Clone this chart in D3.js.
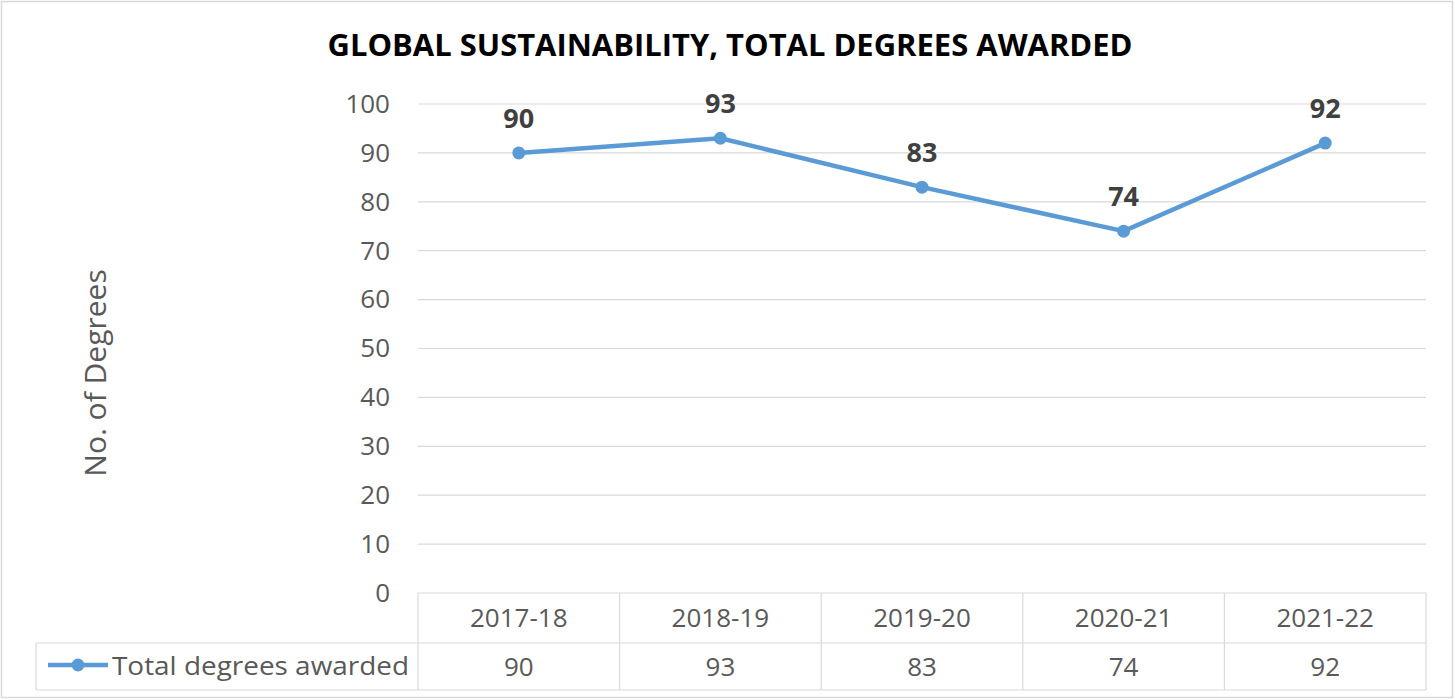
<!DOCTYPE html>
<html><head><meta charset="utf-8">
<script src="https://cdn.jsdelivr.net/npm/d3@7"></script>
<style>body{margin:0;background:#fff;} svg{display:block;}</style>
</head><body>
<svg id="c" width="1455" height="700"></svg>
<script>
(function(){
const categories = ["2017-18","2018-19","2019-20","2020-21","2021-22"];
const values = [90,93,83,74,92];
const yTicks = [0,10,20,30,40,50,60,70,80,90,100];
const seriesName = "Total degrees awarded";
const title = "GLOBAL SUSTAINABILITY, TOTAL DEGREES AWARDED";
const yTitle = "No. of Degrees";

const svg = d3.select("#c");
const font = "'Open Sans', 'Noto Sans', sans-serif";
const W=1455,H=700;
svg.append("rect").attr("x",1.5).attr("y",1.5).attr("width",W-4).attr("height",H-4)
  .attr("fill","#fff").attr("stroke","#d9d9d9").attr("stroke-width",1.5);

const pLeft=418,pRight=1426,pTop=104,pBottom=593;
const x = d3.scaleBand().domain(categories).range([pLeft,pRight]);
const y = d3.scaleLinear().domain([0,100]).range([pBottom,pTop]);

// gridlines
svg.append("g").selectAll("line").data(yTicks.filter(d=>d>0)).join("line")
  .attr("x1",pLeft).attr("x2",pRight).attr("y1",d=>y(d)).attr("y2",d=>y(d))
  .attr("stroke","#d9d9d9").attr("stroke-width",1.2);

// y axis labels
const ya = svg.append("g").attr("transform",`translate(${pLeft},0)`)
  .call(d3.axisLeft(y).tickValues(yTicks).tickSize(0).tickPadding(28));
ya.select(".domain").remove();
ya.selectAll("text").attr("font-family",font).attr("font-size",26).attr("fill","#595959");

// title
svg.append("text").attr("x",730).attr("y",56).attr("text-anchor","middle")
  .attr("font-family",font).attr("font-weight","bold").attr("font-size",30)
  .attr("textLength",805).attr("lengthAdjust","spacingAndGlyphs")
  .attr("fill","#000").text(title);

// y title
svg.append("text").attr("transform","translate(106,373) rotate(-90)").attr("text-anchor","middle")
  .attr("font-family",font).attr("font-size",30).attr("fill","#595959").text(yTitle);

// table
const tLeft=36, row1=593,row2=643,row3=690;
const tg = svg.append("g").attr("stroke","#d9d9d9").attr("stroke-width",1.2);
tg.append("line").attr("x1",pLeft).attr("x2",pRight).attr("y1",row1).attr("y2",row1);
tg.append("line").attr("x1",tLeft).attr("x2",pRight).attr("y1",row2).attr("y2",row2);
tg.append("line").attr("x1",tLeft).attr("x2",pRight).attr("y1",row3).attr("y2",row3);
tg.append("line").attr("x1",tLeft).attr("x2",tLeft).attr("y1",row2).attr("y2",row3);
const vlines = categories.map(c=>x(c)).concat([pRight]);
tg.selectAll("line.v").data(vlines).join("line").attr("class","v")
  .attr("x1",d=>d).attr("x2",d=>d).attr("y1",row1).attr("y2",row3);

svg.append("g").selectAll("text").data(categories).join("text")
  .attr("x",d=>x(d)+x.bandwidth()/2).attr("y",627).attr("text-anchor","middle")
  .attr("font-family",font).attr("font-size",26).attr("fill","#595959").text(d=>d);
svg.append("g").selectAll("text").data(values).join("text")
  .attr("x",(d,i)=>x(categories[i])+x.bandwidth()/2).attr("y",676).attr("text-anchor","middle")
  .attr("font-family",font).attr("font-size",26).attr("fill","#595959").text(d=>d);

// legend key
const color="#5B9BD5";
svg.append("line").attr("x1",48).attr("x2",108).attr("y1",665).attr("y2",665)
  .attr("stroke",color).attr("stroke-width",4.5);
svg.append("circle").attr("cx",78).attr("cy",665).attr("r",6.5).attr("fill",color);
svg.append("text").attr("x",112).attr("y",675).attr("font-family",font).attr("font-size",26)
  .attr("textLength",297).attr("lengthAdjust","spacingAndGlyphs")
  .attr("fill","#595959").text(seriesName);

// line
const cx = d=>x(d)+x.bandwidth()/2;
const pts = categories.map((c,i)=>[cx(c), y(values[i])]);
svg.append("path").attr("d",d3.line()(pts)).attr("fill","none").attr("stroke",color)
  .attr("stroke-width",4.5).attr("stroke-linejoin","round").attr("stroke-linecap","round");
svg.append("g").selectAll("circle").data(categories).join("circle")
  .attr("cx",d=>cx(d)).attr("cy",(d,i)=>y(values[i])).attr("r",6.5).attr("fill",color);
svg.append("g").selectAll("text").data(categories).join("text")
  .attr("x",d=>cx(d)).attr("y",(d,i)=>y(values[i])-25).attr("text-anchor","middle")
  .attr("font-family",font).attr("font-weight","bold").attr("font-size",27).attr("fill","#404040")
  .text((d,i)=>values[i]);
})();
</script>
</body></html>
